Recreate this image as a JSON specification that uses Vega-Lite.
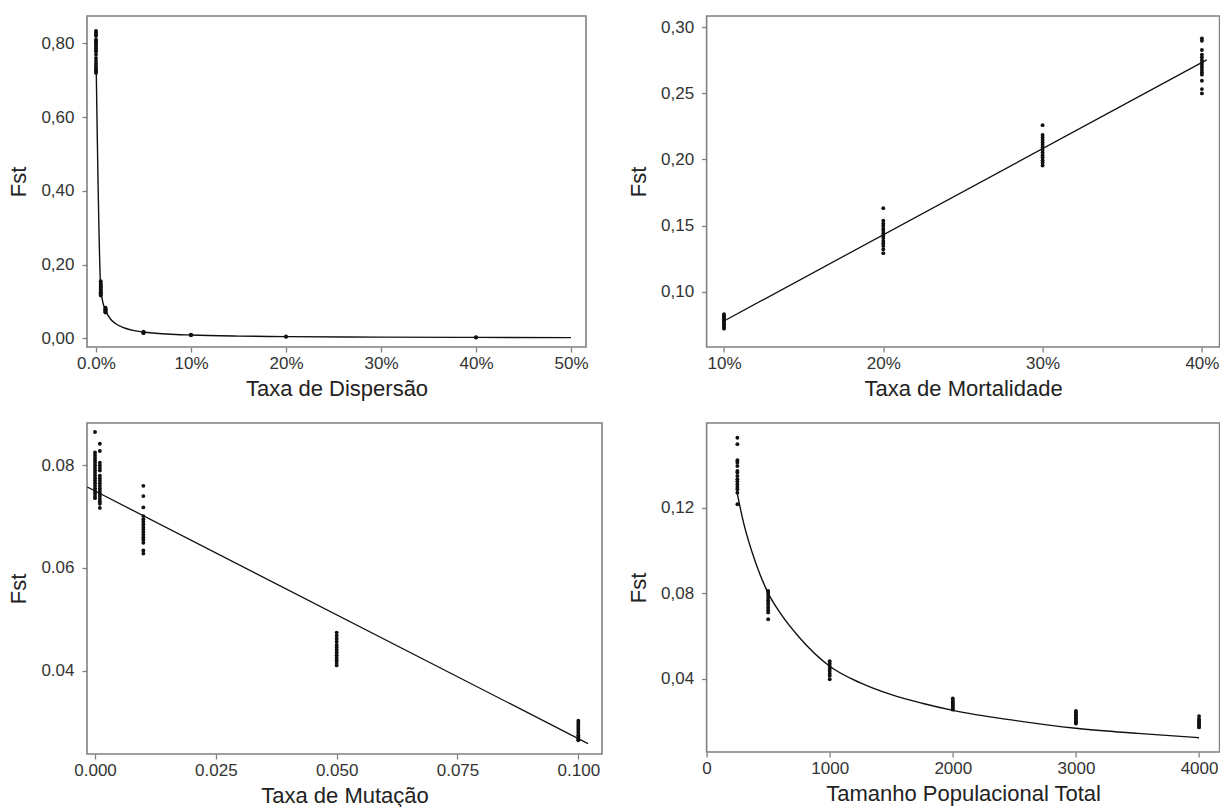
{
  "$schema": "https://vega.github.io/schema/vega-lite/v6.json",
  "padding": {"left": 6, "top": 15, "right": 0, "bottom": 0},
  "background": "white",
  "bounds": "flush",
  "columns": 2,
  "spacing": {"row": 76, "column": 104.6},
  "config": {
    "view": {"stroke": "#808080", "strokeWidth": 1.6},
    "axis": {"domain": false, "grid": false, "tickColor": "#808080", "tickSize": 5, "tickWidth": 1.3,
      "labelFont": "Liberation Sans", "labelFontSize": 17, "labelColor": "#333333", "labelFlush": false, "labelOverlap": false,
      "titleFont": "Liberation Sans", "titleFontSize": 22, "titleFontWeight": "normal", "titleColor": "#222222"},
    "axisX": {"labelPadding": 3, "titlePadding": 7},
    "axisY": {"labelPadding": 8, "titlePadding": 10.5}
  },
  "datasets": {
    "disp_pts": [
      {"x":0,"y":0.834},{"x":0,"y":0.829},{"x":0,"y":0.825},{"x":0,"y":0.82},{"x":0,"y":0.81},{"x":0,"y":0.806},{"x":0,"y":0.803},{"x":0,"y":0.8},{"x":0,"y":0.795},{"x":0,"y":0.79},{"x":0,"y":0.786},{"x":0,"y":0.782},{"x":0,"y":0.778},{"x":0,"y":0.77},{"x":0,"y":0.76},{"x":0,"y":0.752},{"x":0,"y":0.745},{"x":0,"y":0.738},{"x":0,"y":0.732},{"x":0,"y":0.728},{"x":0,"y":0.724},{"x":0,"y":0.72},
      {"x":0.005,"y":0.155},{"x":0.005,"y":0.15},{"x":0.005,"y":0.146},{"x":0.005,"y":0.142},{"x":0.005,"y":0.14},{"x":0.005,"y":0.137},{"x":0.005,"y":0.134},{"x":0.005,"y":0.131},{"x":0.005,"y":0.128},{"x":0.005,"y":0.125},{"x":0.005,"y":0.122},{"x":0.005,"y":0.119},{"x":0.005,"y":0.116},
      {"x":0.01,"y":0.083},{"x":0.01,"y":0.081},{"x":0.01,"y":0.079},{"x":0.01,"y":0.077},{"x":0.01,"y":0.076},{"x":0.01,"y":0.075},{"x":0.01,"y":0.073},{"x":0.01,"y":0.071},{"x":0.01,"y":0.07},
      {"x":0.05,"y":0.018},{"x":0.05,"y":0.016},{"x":0.05,"y":0.015},{"x":0.05,"y":0.014},
      {"x":0.1,"y":0.01},{"x":0.1,"y":0.009},{"x":0.1,"y":0.008},
      {"x":0.2,"y":0.005},{"x":0.2,"y":0.004},
      {"x":0.4,"y":0.003},{"x":0.4,"y":0.002}
    ],
    "disp_fit": [
      {"x":0,"y":0.775},{"x":0.005,"y":0.135},{"x":0.0075,"y":0.095},{"x":0.01,"y":0.076},{"x":0.015,"y":0.053},{"x":0.02,"y":0.041},{"x":0.03,"y":0.028},{"x":0.04,"y":0.021},{"x":0.05,"y":0.017},{"x":0.075,"y":0.0115},{"x":0.1,"y":0.0088},{"x":0.15,"y":0.006},{"x":0.2,"y":0.0046},{"x":0.3,"y":0.0031},{"x":0.4,"y":0.0024},{"x":0.5,"y":0.0019}
    ],
    "mort_pts": [
      {"x":0.1,"y":0.083},{"x":0.1,"y":0.082},{"x":0.1,"y":0.081},{"x":0.1,"y":0.08},{"x":0.1,"y":0.079},{"x":0.1,"y":0.078},{"x":0.1,"y":0.077},{"x":0.1,"y":0.076},{"x":0.1,"y":0.075},{"x":0.1,"y":0.074},{"x":0.1,"y":0.073},{"x":0.1,"y":0.072},
      {"x":0.2,"y":0.1632},{"x":0.2,"y":0.1536},{"x":0.2,"y":0.1515},{"x":0.2,"y":0.1498},{"x":0.2,"y":0.1477},{"x":0.2,"y":0.146},{"x":0.2,"y":0.144},{"x":0.2,"y":0.1422},{"x":0.2,"y":0.1405},{"x":0.2,"y":0.1384},{"x":0.2,"y":0.1364},{"x":0.2,"y":0.1346},{"x":0.2,"y":0.1321},{"x":0.2,"y":0.1291},
      {"x":0.3,"y":0.226},{"x":0.3,"y":0.2185},{"x":0.3,"y":0.2167},{"x":0.3,"y":0.2147},{"x":0.3,"y":0.2129},{"x":0.3,"y":0.2109},{"x":0.3,"y":0.2091},{"x":0.3,"y":0.2071},{"x":0.3,"y":0.2053},{"x":0.3,"y":0.2033},{"x":0.3,"y":0.2015},{"x":0.3,"y":0.1995},{"x":0.3,"y":0.1975},{"x":0.3,"y":0.1955},
      {"x":0.4,"y":0.2917},{"x":0.4,"y":0.2899},{"x":0.4,"y":0.2829},{"x":0.4,"y":0.2793},{"x":0.4,"y":0.2773},{"x":0.4,"y":0.2753},{"x":0.4,"y":0.2732},{"x":0.4,"y":0.2715},{"x":0.4,"y":0.2697},{"x":0.4,"y":0.2677},{"x":0.4,"y":0.2659},{"x":0.4,"y":0.2642},{"x":0.4,"y":0.2596},{"x":0.4,"y":0.2533},{"x":0.4,"y":0.25}
    ],
    "mort_fit": [{"x":0.1,"y":0.0778},{"x":0.403,"y":0.2754}],
    "mut_pts": [
      {"x":0,"y":0.0865},{"x":0,"y":0.0825},{"x":0,"y":0.082},{"x":0,"y":0.0815},{"x":0,"y":0.081},{"x":0,"y":0.0805},{"x":0,"y":0.08},{"x":0,"y":0.0795},{"x":0,"y":0.079},{"x":0,"y":0.0785},{"x":0,"y":0.078},{"x":0,"y":0.0775},{"x":0,"y":0.077},{"x":0,"y":0.0765},{"x":0,"y":0.076},{"x":0,"y":0.0755},{"x":0,"y":0.075},{"x":0,"y":0.0745},{"x":0,"y":0.074},{"x":0,"y":0.0736},
      {"x":0.001,"y":0.0842},{"x":0.001,"y":0.0828},{"x":0.001,"y":0.0805},{"x":0.001,"y":0.08},{"x":0.001,"y":0.0795},{"x":0.001,"y":0.079},{"x":0.001,"y":0.078},{"x":0.001,"y":0.0775},{"x":0.001,"y":0.077},{"x":0.001,"y":0.0765},{"x":0.001,"y":0.076},{"x":0.001,"y":0.0755},{"x":0.001,"y":0.075},{"x":0.001,"y":0.0745},{"x":0.001,"y":0.074},{"x":0.001,"y":0.0735},{"x":0.001,"y":0.073},{"x":0.001,"y":0.0725},{"x":0.001,"y":0.0717},
      {"x":0.01,"y":0.076},{"x":0.01,"y":0.074},{"x":0.01,"y":0.0718},{"x":0.01,"y":0.0701},{"x":0.01,"y":0.0695},{"x":0.01,"y":0.069},{"x":0.01,"y":0.0685},{"x":0.01,"y":0.068},{"x":0.01,"y":0.0675},{"x":0.01,"y":0.067},{"x":0.01,"y":0.0665},{"x":0.01,"y":0.066},{"x":0.01,"y":0.0655},{"x":0.01,"y":0.0649},{"x":0.01,"y":0.0634},{"x":0.01,"y":0.0628},
      {"x":0.05,"y":0.0474},{"x":0.05,"y":0.0468},{"x":0.05,"y":0.0462},{"x":0.05,"y":0.0456},{"x":0.05,"y":0.045},{"x":0.05,"y":0.0445},{"x":0.05,"y":0.044},{"x":0.05,"y":0.0435},{"x":0.05,"y":0.043},{"x":0.05,"y":0.0425},{"x":0.05,"y":0.042},{"x":0.05,"y":0.0415},{"x":0.05,"y":0.041},
      {"x":0.1,"y":0.0302},{"x":0.1,"y":0.0298},{"x":0.1,"y":0.0294},{"x":0.1,"y":0.029},{"x":0.1,"y":0.0286},{"x":0.1,"y":0.0282},{"x":0.1,"y":0.0278},{"x":0.1,"y":0.0274},{"x":0.1,"y":0.027},{"x":0.1,"y":0.0266},{"x":0.1,"y":0.0264}
    ],
    "mut_fit": [{"x":-0.0016,"y":0.07577},{"x":0.102,"y":0.02576}],
    "pop_pts": [
      {"x":250,"y":0.1527},{"x":250,"y":0.1497},{"x":250,"y":0.1422},{"x":250,"y":0.1411},{"x":250,"y":0.1395},{"x":250,"y":0.1372},{"x":250,"y":0.1364},{"x":250,"y":0.1348},{"x":250,"y":0.1333},{"x":250,"y":0.1322},{"x":250,"y":0.1309},{"x":250,"y":0.1297},{"x":250,"y":0.1286},{"x":250,"y":0.127},{"x":250,"y":0.1216},
      {"x":500,"y":0.081},{"x":500,"y":0.0802},{"x":500,"y":0.0792},{"x":500,"y":0.0779},{"x":500,"y":0.0767},{"x":500,"y":0.0756},{"x":500,"y":0.0745},{"x":500,"y":0.0732},{"x":500,"y":0.072},{"x":500,"y":0.0709},{"x":500,"y":0.0678},
      {"x":1000,"y":0.0482},{"x":1000,"y":0.047},{"x":1000,"y":0.0459},{"x":1000,"y":0.0448},{"x":1000,"y":0.0436},{"x":1000,"y":0.0423},{"x":1000,"y":0.0413},{"x":1000,"y":0.0397},
      {"x":2000,"y":0.0308},{"x":2000,"y":0.0298},{"x":2000,"y":0.029},{"x":2000,"y":0.0282},{"x":2000,"y":0.0275},{"x":2000,"y":0.0268},{"x":2000,"y":0.026},{"x":2000,"y":0.0255},
      {"x":3000,"y":0.0249},{"x":3000,"y":0.0242},{"x":3000,"y":0.0235},{"x":3000,"y":0.0228},{"x":3000,"y":0.0221},{"x":3000,"y":0.0214},{"x":3000,"y":0.0207},{"x":3000,"y":0.02},{"x":3000,"y":0.0193},{"x":3000,"y":0.019},
      {"x":4000,"y":0.0225},{"x":4000,"y":0.0212},{"x":4000,"y":0.0205},{"x":4000,"y":0.0198},{"x":4000,"y":0.0191},{"x":4000,"y":0.0184},{"x":4000,"y":0.0177},{"x":4000,"y":0.0172}
    ],
    "pop_fit": [
      {"x":250,"y":0.1263},{"x":300,"y":0.113},{"x":400,"y":0.094},{"x":500,"y":0.08},{"x":600,"y":0.0705},{"x":750,"y":0.0595},{"x":1000,"y":0.0458},{"x":1250,"y":0.038},{"x":1500,"y":0.0325},{"x":1750,"y":0.0285},{"x":2000,"y":0.0252},{"x":2500,"y":0.0205},{"x":3000,"y":0.0168},{"x":3500,"y":0.0144},{"x":4000,"y":0.0124}
    ]
  },
  "concat": [
    {
      "width": 499, "height": 331,
      "encoding": {
        "x": {"field": "x", "type": "quantitative", "scale": {"domain": [-0.00947, 0.51579], "nice": false, "zero": false},
          "axis": {"title": "Taxa de Dispersão", "values": [0, 0.1, 0.2, 0.3, 0.4, 0.5], "labelExpr": "datum.value == 0 ? '0.0%' : format(datum.value, '.0%')"}},
        "y": {"field": "y", "type": "quantitative", "scale": {"domain": [-0.0236, 0.8744], "nice": false, "zero": false},
          "axis": {"title": "Fst", "values": [0, 0.2, 0.4, 0.6, 0.8], "labelExpr": "replace(format(datum.value, '.2f'), '.', ',')"}}
      },
      "layer": [
        {"data": {"name": "disp_fit"}, "mark": {"type": "line", "color": "#111111", "strokeWidth": 1.4, "interpolate": "monotone"}},
        {"data": {"name": "disp_pts"}, "mark": {"type": "circle", "color": "#111111", "size": 15, "opacity": 1}}
      ]
    },
    {
      "width": 513, "height": 331,
      "encoding": {
        "x": {"field": "x", "type": "quantitative", "scale": {"domain": [0.08908, 0.41111], "nice": false, "zero": false},
          "axis": {"title": "Taxa de Mortalidade", "values": [0.1, 0.2, 0.3, 0.4], "labelExpr": "format(datum.value, '.0%')"}},
        "y": {"field": "y", "type": "quantitative", "scale": {"domain": [0.0581, 0.3086], "nice": false, "zero": false},
          "axis": {"title": "Fst", "values": [0.1, 0.15, 0.2, 0.25, 0.3], "labelExpr": "replace(format(datum.value, '.2f'), '.', ',')"}}
      },
      "layer": [
        {"data": {"name": "mort_fit"}, "mark": {"type": "line", "color": "#111111", "strokeWidth": 1.3}},
        {"data": {"name": "mort_pts"}, "mark": {"type": "circle", "color": "#111111", "size": 15, "opacity": 1}}
      ]
    },
    {
      "width": 515, "height": 331,
      "encoding": {
        "x": {"field": "x", "type": "quantitative", "scale": {"domain": [-0.00166, 0.1049], "nice": false, "zero": false},
          "axis": {"title": "Taxa de Mutação", "values": [0, 0.025, 0.05, 0.075, 0.1], "labelExpr": "format(datum.value, '.3f')"}},
        "y": {"field": "y", "type": "quantitative", "scale": {"domain": [0.02373, 0.08825], "nice": false, "zero": false},
          "axis": {"title": "Fst", "values": [0.04, 0.06, 0.08], "labelExpr": "format(datum.value, '.2f')"}}
      },
      "layer": [
        {"data": {"name": "mut_fit"}, "mark": {"type": "line", "color": "#111111", "strokeWidth": 1.3}},
        {"data": {"name": "mut_pts"}, "mark": {"type": "circle", "color": "#111111", "size": 15, "opacity": 1}}
      ]
    },
    {
      "width": 513, "height": 329,
      "encoding": {
        "x": {"field": "x", "type": "quantitative", "scale": {"domain": [0, 4167], "nice": false, "zero": false},
          "axis": {"title": "Tamanho Populacional Total", "values": [0, 1000, 2000, 3000, 4000], "labelExpr": "format(datum.value, 'd')"}},
        "y": {"field": "y", "type": "quantitative", "scale": {"domain": [0.0057, 0.1596], "nice": false, "zero": false},
          "axis": {"title": "Fst", "values": [0.04, 0.08, 0.12], "labelExpr": "replace(format(datum.value, '.2f'), '.', ',')"}}
      },
      "layer": [
        {"data": {"name": "pop_fit"}, "mark": {"type": "line", "color": "#111111", "strokeWidth": 1.4, "interpolate": "monotone"}},
        {"data": {"name": "pop_pts"}, "mark": {"type": "circle", "color": "#111111", "size": 15, "opacity": 1}}
      ]
    }
  ]
}
